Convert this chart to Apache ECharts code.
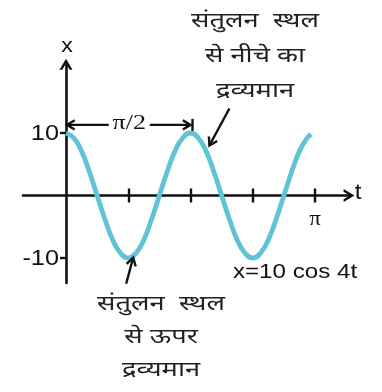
<!DOCTYPE html>
<html><head><meta charset="utf-8">
<script src="https://cdn.jsdelivr.net/npm/echarts@6/dist/echarts.min.js"></script>
<style>html,body{margin:0;padding:0;background:#fff}#c{width:382px;height:392px}</style>
</head><body><div id="c"></div><script>
const PI = Math.PI;
// sample times, in units of π/32
const tSteps = [0,1,2,3,4,5,6,7,8,9,10,11,12,13,14,15,16,17,18,19,20,21,22,23,24,25,26,27,28,29,30,31,31.5];
// displacement x at each sample
const xValues = [10,9.2,7.1,3.8,0,-3.8,-7.1,-9.2,-10,-9.2,-7.1,-3.8,0,3.8,7.1,9.2,10,9.2,7.1,3.8,0,-3.8,-7.1,-9.2,-10,-9.2,-7.1,-3.8,0,3.8,7.1,9.2,9.8];
// t-axis ticks (units of π/32) and their labels
const tTickSteps = [8,16,24,32];
const tTickLabels = {32:'π'};
const xTickValues = [10,-10];
const xTickLabels = ['10','-10'];
const axisNames = {x: 'x', t: 't'};
const spanLabel = 'π/2';
const equation = 'x=10 cos 4t';
const noteTop = ['संतुलन  स्थल','से नीचे का','द्रव्यमान'];
const noteBottom = ['संतुलन  स्थल','से ऊपर','द्रव्यमान'];

const toT = k => k * PI / 32;
const curve = tSteps.map((k, i) => [toT(k), xValues[i]]);
const tickVals = tTickSteps.map(toT);

const INK = '#111';
const HINDI = "'Noto Sans Devanagari','Lohit Devanagari','Mangal','Noto Sans',sans-serif";
const SANS = "'Liberation Sans',Arial,sans-serif";
const SERIF = "'Liberation Serif','Times New Roman',serif";
const chevron = 'path://M0,10 L6,0 L12,10 L9.4,10 L6,4.3 L2.6,10 Z';

const chart = echarts.init(document.getElementById('c'), null, {renderer: 'canvas'});
const xMin = -0.1727 * PI, xMax = 1.1365 * PI;

const baseX = {
  type: 'value', min: xMin, max: xMax,
  splitLine: {show: false},
  axisLabel: {show: false}
};
chart.setOption({
  animation: false,
  grid: {left: 23, right: 33, top: 64.25, bottom: 109, containLabel: false, outerBoundsMode: 'none'},
  xAxis: [
    Object.assign({}, baseX, {
      axisLine: {onZero: true, lineStyle: {color: INK, width: 2.6}, symbol: ['none', chevron], symbolSize: [13, 12]},
      axisTick: {show: true, customValues: tickVals, length: 7, lineStyle: {color: INK, width: 2.4}}
    }),
    Object.assign({}, baseX, {
      position: 'bottom',
      axisLine: {show: true, onZero: true, onZeroAxisIndex: 0, lineStyle: {color: INK, width: 0, opacity: 0}},
      axisTick: {show: true, inside: true, customValues: tickVals, length: 7, lineStyle: {color: INK, width: 2.4}}
    })
  ],
  yAxis: {
    type: 'value', min: -14, max: 21,
    splitLine: {show: false},
    axisLine: {onZero: true, lineStyle: {color: INK, width: 2.6}, symbol: ['none', chevron], symbolSize: [13, 12]},
    axisTick: {show: true, customValues: xTickValues, length: 6, lineStyle: {color: INK, width: 2.4}},
    axisLabel: {show: false}
  },
  series: [{
    type: 'line', data: curve, smooth: 0.5, showSymbol: false, xAxisIndex: 0,
    lineStyle: {color: '#5ec4d6', width: 4.8}
  }]
});

// labels and annotations, anchored to data coordinates
const px = (t, x) => chart.convertToPixel({gridIndex: 0}, [t, x]);
const g = [];
function text(s, x, y, font, size, sx, align, extra) {
  g.push({type: 'text', x, y, z: 11, scaleX: sx,
    style: Object.assign({text: s, fontFamily: font, fontSize: size, fill: INK, align: align || 'center', verticalAlign: 'middle'}, extra || {})});
}
function head(tip, from, len, spread) {
  const a = Math.atan2(from[1] - tip[1], from[0] - tip[0]);
  return [
    [tip[0] + len * Math.cos(a + spread), tip[1] + len * Math.sin(a + spread)],
    tip,
    [tip[0] + len * Math.cos(a - spread), tip[1] + len * Math.sin(a - spread)]
  ];
}
const stroke = {stroke: INK, lineWidth: 2.4, fill: null};
function arrow(from, tip) {
  g.push({type: 'line', shape: {x1: from[0], y1: from[1], x2: tip[0], y2: tip[1]}, style: stroke, z: 10});
  g.push({type: 'polyline', shape: {points: head(tip, from, 9, 0.55)}, style: stroke, z: 10});
}

// tick labels
xTickValues.forEach((v, i) => { const p = px(0, v); text(xTickLabels[i], p[0] - 7, p[1] + 1, SANS, 22, 1.15, 'right'); });
tTickSteps.forEach(k => { if (tTickLabels[k]) { const p = px(toT(k), 0); text(tTickLabels[k], p[0], p[1] + 24, SERIF, 20, 1.15); } });
// axis names
const o = px(0, 0);
text(axisNames.x, o[0] + 1, 46, SANS, 21, 1.1);
text(axisNames.t, 358, o[1] - 3, SANS, 22, 1.1);

// π/2 span arrow
const yS = 11.3;
const L = px(0, yS), R = px(PI / 2, yS);
arrow([(L[0] + R[0]) / 2, L[1]], [L[0] + 1, L[1]]);
arrow([(L[0] + R[0]) / 2, L[1]], [R[0], L[1]]);
g.push({type: 'line', shape: {x1: R[0] + 2, y1: L[1] - 6, x2: R[0] + 2, y2: L[1] + 6}, style: stroke, z: 10});
text(spanLabel, (L[0] + R[0]) / 2 + 1, L[1] - 1, SERIF, 20, 1.3, 'center', {backgroundColor: '#fff', padding: [0, 3]});

// pointer to a mass below equilibrium (descending part after t = π/2)
const pTop = px(toT(18.3), 8);
arrow([pTop[0] + 21, pTop[1] - 37], [pTop[0] + 1, pTop[1]]);
// pointer to a mass at the trough (t = π/4)
const pBot = px(toT(8.5), -9.8);
arrow([pBot[0] - 6, pBot[1] + 27], [pBot[0] + 1, pBot[1] + 1]);

function note(lines, cx, y0, gap) {
  lines.forEach((s, i) => text(s, cx, y0 + i * gap, HINDI, 21, 1.3, 'center', {fill: '#222'}));
}
note(noteTop, 255, 23, 35);
note(noteBottom, 161, 306, 33);

text(equation, 295, 272, SANS, 21, 1.15);

chart.setOption({graphic: g});
</script></body></html>
